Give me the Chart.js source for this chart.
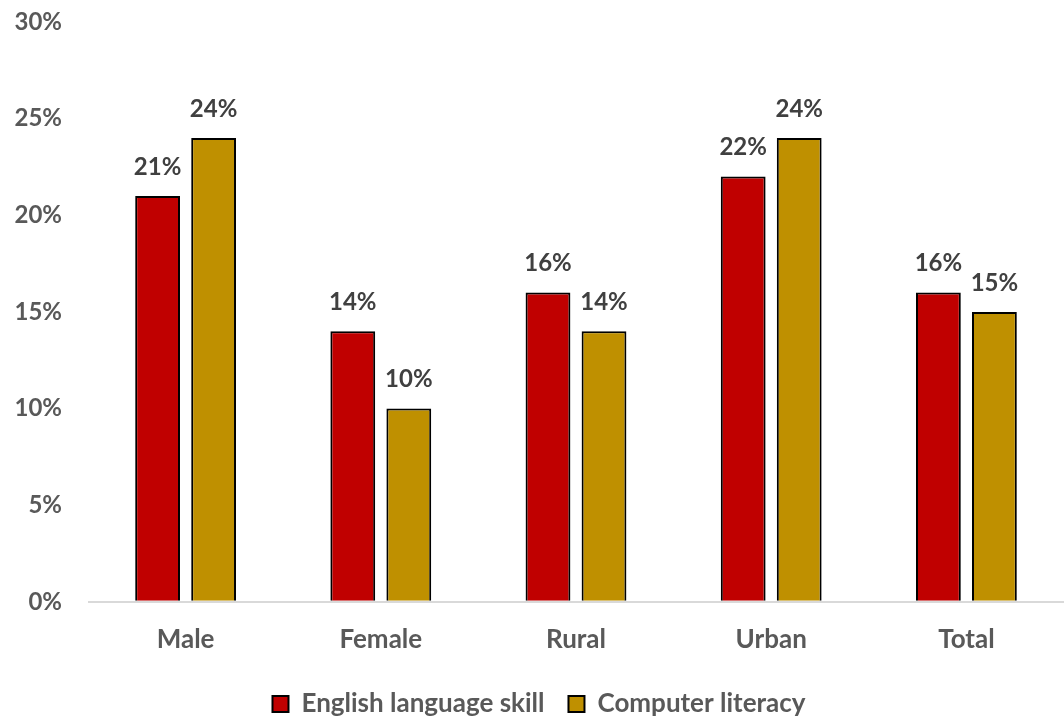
<!DOCTYPE html>
<html>
<head>
<meta charset="utf-8">
<script src="https://cdn.jsdelivr.net/npm/chart.js@4"></script>
<style>
  html, body { margin: 0; padding: 0; background: #fff; }
  #wrap { width: 1064px; height: 718px; }
</style>
</head>
<body>
<div id="wrap"><canvas id="skills-chart"></canvas></div>
<script>
// Share of people with each skill, by group (%)
const groups = ['Male', 'Female', 'Rural', 'Urban', 'Total'];
const englishSkill = [21, 14, 16, 22, 16];
const computerLiteracy = [24, 10, 14, 24, 15];
const yTicks = [0, 5, 10, 15, 20, 25, 30];

const fontFamily = 'Lato, "Open Sans", sans-serif';

// Writes the value above each bar
const barValueLabels = {
    id: 'barValueLabels',
    afterDatasetsDraw(chart) {
        const ctx = chart.ctx;
        ctx.save();
        ctx.font = 'bold 24px ' + fontFamily;
        ctx.fillStyle = '#404040';
        ctx.textAlign = 'center';
        ctx.textBaseline = 'bottom';
        chart.data.datasets.forEach(function(ds, i) {
            chart.getDatasetMeta(i).data.forEach(function(bar, j) {
                ctx.fillText(ds.data[j] + '%', bar.x, bar.y - 17);
            });
        });
        ctx.restore();
    }
};

const ctx = document.getElementById('skills-chart').getContext('2d');
new Chart(ctx, {
    type: 'bar',
    data: {
        labels: groups,
        datasets: [{
            label: 'English language skill',
            data: englishSkill,
            backgroundColor: '#C00000',
            borderColor: '#000000',
            borderWidth: 2,
            categoryPercentage: 0.574,
            barPercentage: 0.8
        }, {
            label: 'Computer literacy',
            data: computerLiteracy,
            backgroundColor: '#BF9000',
            borderColor: '#000000',
            borderWidth: 2,
            categoryPercentage: 0.574,
            barPercentage: 0.8
        }]
    },
    options: {
        responsive: true,
        maintainAspectRatio: false,
        animation: false,
        layout: { padding: { top: 22, left: 14, right: 0, bottom: -9 } },
        plugins: {
            legend: {
                position: 'bottom',
                labels: {
                    boxWidth: 16,
                    boxHeight: 16,
                    color: '#595959',
                    padding: 24,
                    font: { family: fontFamily, size: 26, weight: 'bold' }
                }
            },
            tooltip: { enabled: false }
        },
        scales: {
            x: {
                grid: { display: false },
                border: { display: false },
                afterFit(axis) {
                    axis.height -= 2;
                },
                ticks: {
                    color: '#595959',
                    padding: 14,
                    font: { family: fontFamily, size: 26, weight: 'bold' }
                }
            },
            y: {
                min: 0,
                max: 30,
                afterBuildTicks(axis) {
                    axis.ticks = yTicks.map(v => ({ value: v }));
                },
                afterFit(axis) {
                    axis.width = 74;
                    axis.paddingTop = 0;
                },
                grid: {
                    drawTicks: false,
                    color: c => c.tick && c.tick.value === 0 ? '#D9D9D9' : 'rgba(0,0,0,0)',
                    lineWidth: 2
                },
                border: { display: false },
                ticks: {
                    color: '#595959',
                    padding: 26,
                    font: { family: fontFamily, size: 24, weight: 'bold' },
                    callback: v => v + '%'
                }
            }
        }
    },
    plugins: [barValueLabels]
});
</script>
</body>
</html>
